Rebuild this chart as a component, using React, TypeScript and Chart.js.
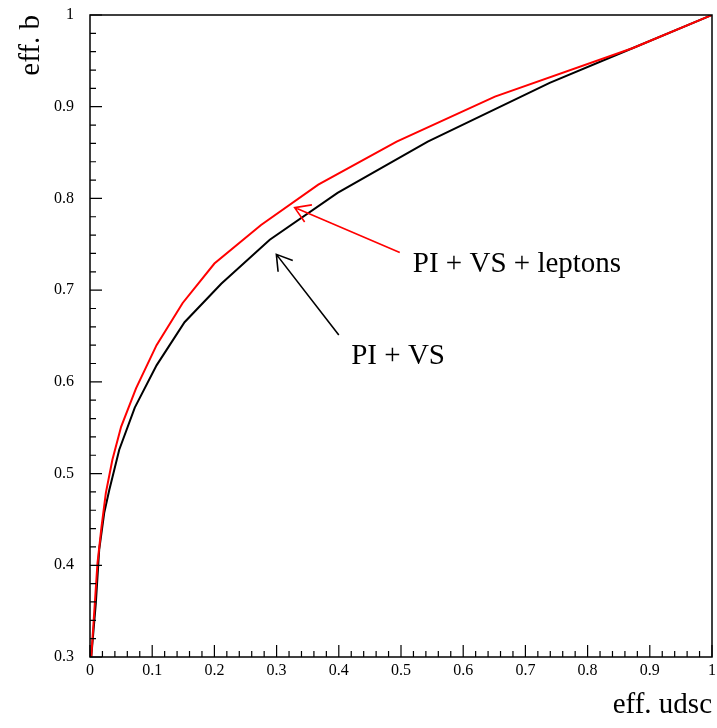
import { useEffect, useRef } from "react";
import { Chart, registerables } from "chart.js";

Chart.register(...registerables);

// Series: PI + VS (black)
const piVsX = [0.002, 0.0094, 0.0148, 0.0228, 0.031, 0.047, 0.072, 0.107, 0.152, 0.211, 0.289, 0.398, 0.543, 0.739, 0.873, 1];
const piVsY = [0.3, 0.359, 0.417, 0.457, 0.482, 0.526, 0.572, 0.618, 0.665, 0.707, 0.755, 0.806, 0.862, 0.926, 0.964, 1];

// Series: PI + VS + leptons (red)
const piVsLepX = [0.002, 0.0067, 0.012, 0.0185, 0.0255, 0.036, 0.05, 0.074, 0.107, 0.149, 0.2, 0.275, 0.367, 0.493, 0.651, 0.873, 1];
const piVsLepY = [0.3, 0.348, 0.402, 0.442, 0.479, 0.515, 0.551, 0.593, 0.64, 0.686, 0.729, 0.771, 0.815, 0.862, 0.911, 0.964, 1];

const seriesLabels = ["PI + VS + leptons", "PI + VS"];
const seriesColors = ["#ff0000", "#000000"];

// Annotations (data coordinates)
const annoText = ["PI + VS + leptons", "PI + VS"];
const annoTextX = [0.519, 0.42];
const annoTextY = [0.72, 0.62];
const arrowTipX = [0.329, 0.2996];
const arrowTipY = [0.79, 0.739];
const arrowTailX = [0.498, 0.4];
const arrowTailY = [0.741, 0.651];

const xTitle = "eff. udsc";
const yTitle = "eff. b";

const X_MIN = 0, X_MAX = 1, Y_MIN = 0.3, Y_MAX = 1;
const MINOR_STEP = 0.02;

const SERIF = "'Liberation Serif', 'Times New Roman', serif";

const fmt = (v: number) => String(Math.round(v * 10) / 10);

const decorPlugin = {
  id: "decor",
  afterDraw(chart: any) {
    const ctx = chart.ctx as CanvasRenderingContext2D;
    const { left, right, top, bottom } = chart.chartArea;
    const xs = chart.scales.x;
    const ys = chart.scales.y;
    ctx.save();
    // frame
    ctx.strokeStyle = "#000";
    ctx.lineWidth = 1.5;
    ctx.strokeRect(left, top, right - left, bottom - top);
    // ticks
    ctx.lineWidth = 1.2;
    ctx.beginPath();
    const nx = Math.round((X_MAX - X_MIN) / MINOR_STEP);
    for (let i = 0; i <= nx; i++) {
      const px = xs.getPixelForValue(X_MIN + i * MINOR_STEP);
      const len = i % 5 === 0 ? 12 : 6;
      ctx.moveTo(px, bottom);
      ctx.lineTo(px, bottom - len);
    }
    const ny = Math.round((Y_MAX - Y_MIN) / MINOR_STEP);
    for (let i = 0; i <= ny; i++) {
      const py = ys.getPixelForValue(Y_MIN + i * MINOR_STEP);
      const len = i % 5 === 0 ? 12 : 6;
      ctx.moveTo(left, py);
      ctx.lineTo(left + len, py);
    }
    ctx.stroke();

    // arrows + labels
    for (let k = 0; k < annoText.length; k++) {
      const color = seriesColors[k];
      const tx = xs.getPixelForValue(arrowTipX[k]);
      const ty = ys.getPixelForValue(arrowTipY[k]);
      const sx = xs.getPixelForValue(arrowTailX[k]);
      const sy = ys.getPixelForValue(arrowTailY[k]);
      ctx.strokeStyle = color;
      ctx.lineWidth = 1.6;
      ctx.beginPath();
      ctx.moveTo(sx, sy);
      ctx.lineTo(tx, ty);
      const ang = Math.atan2(sy - ty, sx - tx);
      const hl = 17.5;
      const ha = (32 * Math.PI) / 180;
      ctx.moveTo(tx + hl * Math.cos(ang + ha), ty + hl * Math.sin(ang + ha));
      ctx.lineTo(tx, ty);
      ctx.lineTo(tx + hl * Math.cos(ang - ha), ty + hl * Math.sin(ang - ha));
      ctx.stroke();

      ctx.fillStyle = "#000";
      ctx.font = `29px ${SERIF}`;
      ctx.textAlign = "left";
      ctx.textBaseline = "alphabetic";
      ctx.fillText(annoText[k], xs.getPixelForValue(annoTextX[k]), ys.getPixelForValue(annoTextY[k]));
    }

    // axis titles
    ctx.fillStyle = "#000";
    ctx.font = `29px ${SERIF}`;
    ctx.textAlign = "right";
    ctx.textBaseline = "alphabetic";
    ctx.fillText(xTitle, right, 713);
    ctx.save();
    ctx.translate(39, top);
    ctx.rotate(-Math.PI / 2);
    ctx.textAlign = "right";
    ctx.fillText(yTitle, 0, 0);
    ctx.restore();
    ctx.restore();
  },
};

export default function App() {
  const ref = useRef<HTMLCanvasElement | null>(null);
  useEffect(() => {
    if (!ref.current) return;
    const chart = new Chart(ref.current, {
      type: "line",
      data: {
        datasets: [
          {
            label: seriesLabels[0],
            data: piVsLepX.map((x, i) => ({ x, y: piVsLepY[i] })),
            borderColor: seriesColors[0],
            borderWidth: 2,
            pointRadius: 0,
            tension: 0,
            fill: false,
          },
          {
            label: seriesLabels[1],
            data: piVsX.map((x, i) => ({ x, y: piVsY[i] })),
            borderColor: seriesColors[1],
            borderWidth: 2,
            pointRadius: 0,
            tension: 0,
            fill: false,
          },
        ],
      },
      options: {
        responsive: false,
        animation: false,
        layout: { padding: { top: 15, right: 5, left: 0, bottom: 0 } },
        plugins: { legend: { display: false }, tooltip: { enabled: false } },
        scales: {
          x: {
            type: "linear",
            min: X_MIN,
            max: X_MAX,
            border: { display: false },
            grid: { display: false, drawTicks: false },
            ticks: {
              stepSize: 0.1,
              maxRotation: 0,
              autoSkip: false,
              padding: 4,
              color: "#000",
              font: { family: SERIF, size: 16 },
              callback: (v: any) => fmt(Number(v)),
            },
            afterFit: (s: any) => {
              s.height = 71;
              s.paddingLeft = 0;
              s.paddingRight = 0;
            },
          },
          y: {
            type: "linear",
            min: Y_MIN,
            max: Y_MAX,
            border: { display: false },
            grid: { display: false, drawTicks: false },
            ticks: {
              stepSize: 0.1,
              autoSkip: false,
              padding: 16,
              color: "#000",
              font: { family: SERIF, size: 16 },
              callback: (v: any) => fmt(Number(v)),
            },
            afterFit: (s: any) => {
              s.width = 90;
              s.paddingTop = 0;
              s.paddingBottom = 0;
            },
          },
        },
      },
      plugins: [decorPlugin],
    });
    return () => chart.destroy();
  }, []);
  return (
    <div style={{ position: "absolute", left: 0, top: 0, width: 717, height: 728, background: "#fff" }}>
      <canvas ref={ref} width={717} height={728} style={{ display: "block" }} />
    </div>
  );
}
